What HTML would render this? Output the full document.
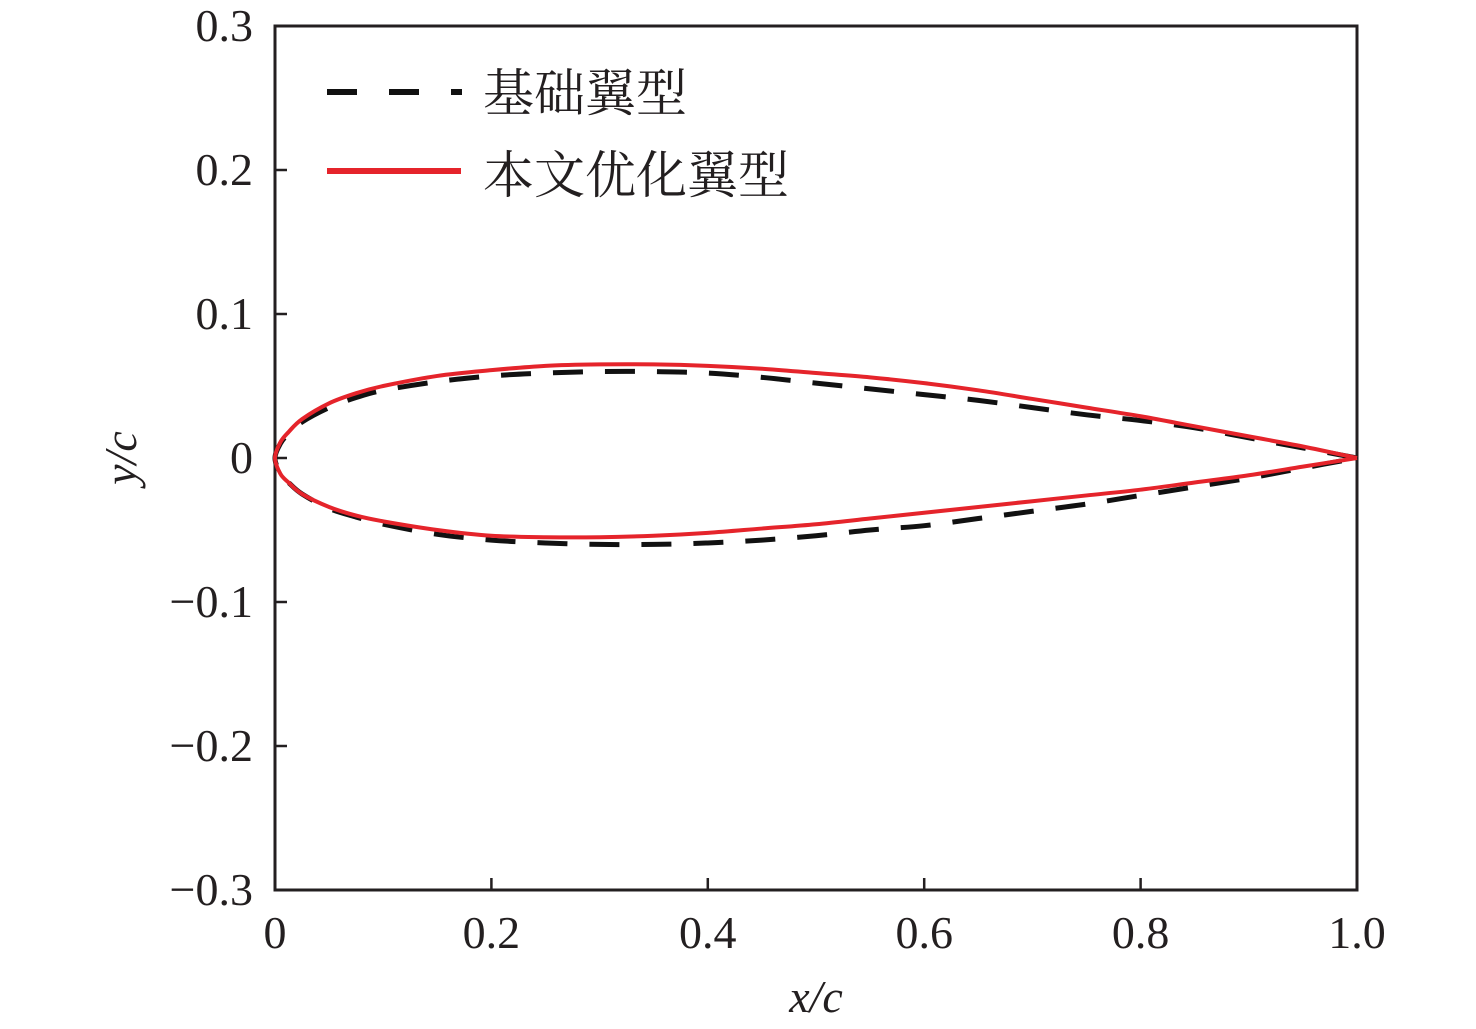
<!DOCTYPE html>
<html><head><meta charset="utf-8"><style>
html,body{margin:0;padding:0;background:#fff;}
svg{display:block;}
text{font-family:"Liberation Serif","Times New Roman",serif;fill:#231f20;}
text.cjk{font-family:"Liberation Serif","Noto Serif CJK SC",serif;}
</style></head><body>
<svg width="1476" height="1029" viewBox="0 0 1476 1029">
<g id="axes"></g>
<g id="series"></g>
<g>
  <line x1="327" y1="92" x2="462" y2="92" stroke="#111" stroke-width="6" stroke-dasharray="30,32"/>
  <text class="cjk" x="483" y="111" font-size="51">基础翼型</text>
  <line x1="327" y1="171" x2="461" y2="171" stroke="#e5242b" stroke-width="6"/>
  <text class="cjk" x="483" y="193" font-size="51">本文优化翼型</text>
</g>
</svg>
<script>
const xs = [0,0.005,0.0125,0.025,0.05,0.075,0.1,0.15,0.2,0.25,0.3,0.35,0.4,0.45,0.5,0.55,0.6,0.65,0.7,0.75,0.8,0.85,0.9,0.95,1.0];
const redUpper = [0,0.011,0.018,0.027,0.038,0.045,0.050,0.057,0.061,0.064,0.065,0.065,0.064,0.062,0.059,0.056,0.052,0.047,0.041,0.035,0.029,0.022,0.015,0.008,0.0];
const redLower = [0,-0.011,-0.017,-0.025,-0.034,-0.040,-0.044,-0.050,-0.054,-0.055,-0.055,-0.054,-0.052,-0.049,-0.046,-0.042,-0.038,-0.034,-0.030,-0.026,-0.022,-0.017,-0.012,-0.006,0];
const blackUpper = [0,0.010,0.017,0.025,0.035,0.042,0.047,0.053,0.057,0.059,0.060,0.060,0.059,0.056,0.052,0.048,0.044,0.040,0.035,0.030,0.026,0.021,0.014,0.007,0];
const blackLower = [0,-0.011,-0.017,-0.025,-0.035,-0.041,-0.046,-0.053,-0.057,-0.059,-0.060,-0.060,-0.059,-0.057,-0.054,-0.050,-0.047,-0.042,-0.037,-0.032,-0.026,-0.020,-0.014,-0.007,0];
const xTicks = [0,0.2,0.4,0.6,0.8,1.0];
const xTickLabels = ["0","0.2","0.4","0.6","0.8","1.0"];
const yTicks = [0.3,0.2,0.1,0,-0.1,-0.2,-0.3];
const yTickLabels = ["0.3","0.2","0.1","0","\u22120.1","\u22120.2","\u22120.3"];

const NS="http://www.w3.org/2000/svg";
const L=275,R=1357,T=26,B=890;
const sx=v=>L+(v-0)/(1-0)*(R-L);
const sy=v=>T+(0.3-v)/0.6*(B-T);
const axes=document.getElementById('axes');
const series=document.getElementById('series');
function mk(tag,attrs,parent){const e=document.createElementNS(NS,tag);for(const k in attrs)e.setAttribute(k,attrs[k]);parent.appendChild(e);return e;}

const frame=mk('rect',{x:L,y:T,width:R-L,height:B-T,fill:'none',stroke:'#231f20','stroke-width':3},axes);



xTicks.forEach((v,i)=>{
  const t=mk('line',{x1:sx(v),y1:B,x2:sx(v),y2:B-12,stroke:'#231f20','stroke-width':2.5},axes);
  
  
  const lb=mk('text',{x:sx(v),y:948,'font-size':46,'text-anchor':'middle'},axes);
  lb.textContent=xTickLabels[i];
  
  
});
yTicks.forEach((v,i)=>{
  const t=mk('line',{x1:L,y1:sy(v),x2:L+12,y2:sy(v),stroke:'#231f20','stroke-width':2.5},axes);
  
  
  const lb=mk('text',{x:253,y:sy(v)+15,'font-size':46,'text-anchor':'end'},axes);
  lb.textContent=yTickLabels[i];
  
  
});
const xt=mk('text',{x:816,y:1012,'font-size':46,'text-anchor':'middle','font-style':'italic'},axes);
xt.textContent='x/c';


const yt=mk('text',{x:0,y:0,'font-size':46,'text-anchor':'middle','font-style':'italic',transform:'translate(136,458) rotate(-90)'},axes);
yt.textContent='y/c';



function smoothPath(pts){
  let d='M'+pts[0][0].toFixed(2)+','+pts[0][1].toFixed(2);
  for(let i=0;i<pts.length-1;i++){
    const p0=pts[Math.max(0,i-1)],p1=pts[i],p2=pts[i+1],p3=pts[Math.min(pts.length-1,i+2)];
    const c1=[p1[0]+(p2[0]-p0[0])/6,p1[1]+(p2[1]-p0[1])/6];
    const c2=[p2[0]-(p3[0]-p1[0])/6,p2[1]-(p3[1]-p1[1])/6];
    d+=' C'+c1[0].toFixed(2)+','+c1[1].toFixed(2)+' '+c2[0].toFixed(2)+','+c2[1].toFixed(2)+' '+p2[0].toFixed(2)+','+p2[1].toFixed(2);
  }
  return d;
}
function contour(up,lo){
  const pts=[];
  for(let i=xs.length-1;i>=0;i--)pts.push([sx(xs[i]),sy(up[i])]);
  for(let i=1;i<xs.length;i++)pts.push([sx(xs[i]),sy(lo[i])]);
  return smoothPath(pts);
}
const bl=mk('path',{d:contour(blackUpper,blackLower),fill:'none',stroke:'#111','stroke-width':5,'stroke-dasharray':'30,22'},series);


const rd=mk('path',{d:contour(redUpper,redLower),fill:'none',stroke:'#e5242b','stroke-width':4},series);


</script>
</body></html>
